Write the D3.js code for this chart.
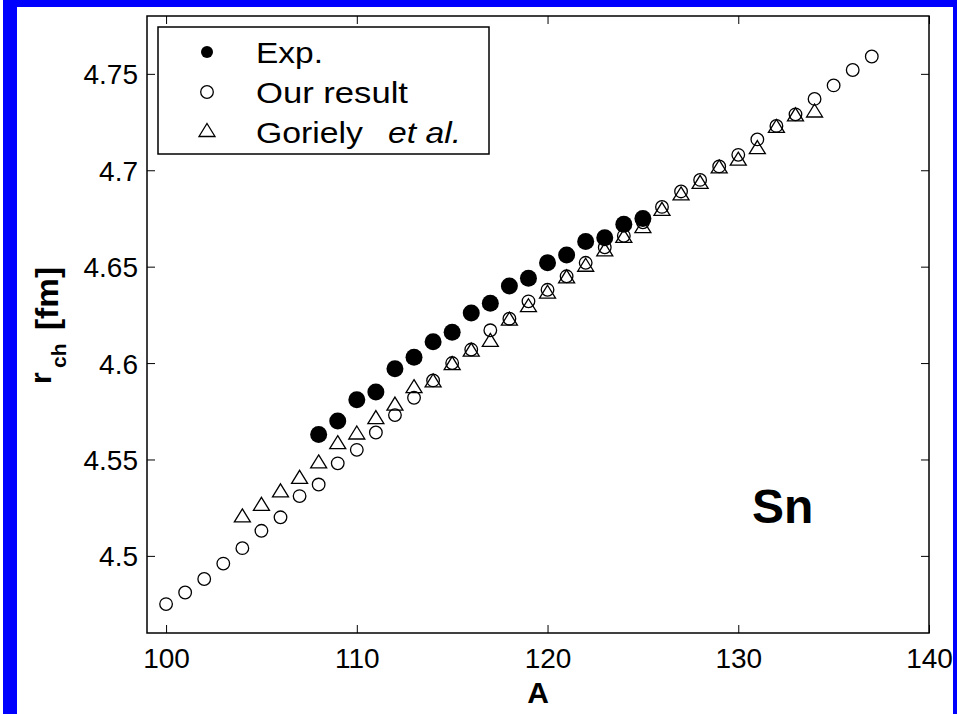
<!DOCTYPE html>
<html>
<head>
<meta charset="utf-8">
<script src="https://cdn.jsdelivr.net/npm/d3@7"></script>
<style>
  html, body { margin: 0; padding: 0; background: #fff; }
  svg { display: block; }
</style>
</head>
<body>
<svg id="chart" width="957" height="714"></svg>
<script>
// Charge radii of Sn isotopes (fm)
const expA = [108, 109, 110, 111, 112, 113, 114, 115, 116, 117, 118, 119, 120, 121, 122, 123, 124, 125];
const expR = [4.563, 4.570, 4.581, 4.585, 4.597, 4.603, 4.611, 4.616, 4.626, 4.631, 4.640, 4.644, 4.652, 4.656, 4.663, 4.665, 4.672, 4.675];

const calcA = [100, 101, 102, 103, 104, 105, 106, 107, 108, 109, 110, 111, 112, 113, 114, 115, 116, 117, 118,
               119, 120, 121, 122, 123, 124, 125, 126, 127, 128, 129, 130, 131, 132, 133, 134, 135, 136, 137];
const calcR = [4.475, 4.481, 4.488, 4.496, 4.504, 4.513, 4.520, 4.531, 4.537, 4.548, 4.555, 4.564, 4.573, 4.582, 4.591, 4.600, 4.607, 4.617, 4.623,
               4.632, 4.638, 4.645, 4.652, 4.660, 4.666, 4.673, 4.681, 4.689, 4.695, 4.702, 4.708, 4.716, 4.723, 4.729, 4.737, 4.744, 4.752, 4.759];

const gorielyA = [104, 105, 106, 107, 108, 109, 110, 111, 112, 113, 114, 115, 116, 117, 118, 119,
                  120, 121, 122, 123, 124, 125, 126, 127, 128, 129, 130, 131, 132, 133, 134];
const gorielyR = [4.521, 4.527, 4.534, 4.541, 4.549, 4.559, 4.564, 4.572, 4.579, 4.588, 4.591, 4.600, 4.607, 4.612, 4.623, 4.630,
                  4.637, 4.645, 4.651, 4.659, 4.666, 4.671, 4.680, 4.688, 4.694, 4.702, 4.706, 4.712, 4.723, 4.729, 4.731];

const xTicks = [100, 110, 120, 130, 140];
const yTicks = [4.5, 4.55, 4.6, 4.65, 4.7, 4.75];
const yTickLabels = ["4.5", "4.55", "4.6", "4.65", "4.7", "4.75"];
const legendLabels = ["Exp.", "Our result", "Goriely"];
const legendItalic = "et al.";
const elementLabel = "Sn";
const xLabel = "A";

const FONT = "'Liberation Sans', Arial, Helvetica, sans-serif";
const svg = d3.select("#chart");

// figure frame
svg.append("rect").attr("width", 957).attr("height", 714).attr("fill", "#0000ff");
svg.append("rect").attr("x", 17).attr("y", 7).attr("width", 936).attr("height", 707).attr("fill", "#fff");
svg.append("rect").attr("x", 0).attr("y", 0).attr("width", 3).attr("height", 714).attr("fill", "#fff");

const plot = { left: 147, top: 16, right: 929, bottom: 633 };
const x = d3.scaleLinear().domain([99, 140]).range([plot.left, plot.right]);
const y = d3.scaleLinear().domain([4.46, 4.78]).range([plot.bottom, plot.top]);

function styleAxis(g) {
  g.select(".domain").remove();
  g.attr("font-family", FONT).attr("font-size", 28);
  g.selectAll(".tick line").attr("stroke", "#000").attr("stroke-width", 1);
  g.selectAll(".tick text").attr("fill", "#000");
}

svg.append("g")
  .attr("transform", `translate(0,${plot.bottom})`)
  .call(d3.axisBottom(x).tickValues(xTicks).tickFormat(d3.format("d"))
    .tickSizeInner(-8).tickSizeOuter(0).tickPadding(15))
  .call(styleAxis);

svg.append("g")
  .attr("transform", `translate(0,${plot.top})`)
  .call(d3.axisTop(x).tickValues(xTicks).tickFormat("")
    .tickSizeInner(-8).tickSizeOuter(0))
  .call(styleAxis);

svg.append("g")
  .attr("transform", `translate(${plot.left},0)`)
  .call(d3.axisLeft(y).tickValues(yTicks).tickFormat((d, i) => yTickLabels[i])
    .tickSizeInner(-8).tickSizeOuter(0).tickPadding(9))
  .call(styleAxis)
  .call(g => g.selectAll(".tick text").attr("dy", "0.36em"));

svg.append("g")
  .attr("transform", `translate(${plot.right},0)`)
  .call(d3.axisRight(y).tickValues(yTicks).tickFormat("")
    .tickSizeInner(-8).tickSizeOuter(0))
  .call(styleAxis);

// axes box
svg.append("rect")
  .attr("x", plot.left).attr("y", plot.top)
  .attr("width", plot.right - plot.left).attr("height", plot.bottom - plot.top)
  .attr("fill", "none").attr("stroke", "#000").attr("stroke-width", 1.5);

// marker shapes
const triPath = "M0,-6.5L8,6.5L-8,6.5Z";

const marks = svg.append("g");

marks.append("g").selectAll("path")
  .data(gorielyA.map((a, i) => [a, gorielyR[i]]))
  .join("path")
  .attr("d", triPath)
  .attr("transform", d => `translate(${x(d[0])},${y(d[1])})`)
  .attr("fill", "none").attr("stroke", "#000").attr("stroke-width", 1.3);

marks.append("g").selectAll("circle")
  .data(calcA.map((a, i) => [a, calcR[i]]))
  .join("circle")
  .attr("cx", d => x(d[0])).attr("cy", d => y(d[1])).attr("r", 6.3)
  .attr("fill", "none").attr("stroke", "#000").attr("stroke-width", 1.3);

marks.append("g").selectAll("circle")
  .data(expA.map((a, i) => [a, expR[i]]))
  .join("circle")
  .attr("cx", d => x(d[0])).attr("cy", d => y(d[1])).attr("r", 8.5)
  .attr("fill", "#000");

// legend
const legend = svg.append("g");
legend.append("rect")
  .attr("x", 158).attr("y", 27).attr("width", 331).attr("height", 127)
  .attr("fill", "#fff").attr("stroke", "#000").attr("stroke-width", 1.5);

legend.append("circle").attr("cx", 207).attr("cy", 52).attr("r", 6).attr("fill", "#000");
legend.append("circle").attr("cx", 207).attr("cy", 92).attr("r", 6.3)
  .attr("fill", "none").attr("stroke", "#000").attr("stroke-width", 1.3);
legend.append("path").attr("d", triPath).attr("transform", "translate(207,130)")
  .attr("fill", "none").attr("stroke", "#000").attr("stroke-width", 1.3);

const legendBaselines = [63, 103, 143];
const legendWidths = [67, 152, 107];
legend.selectAll("text.entry")
  .data(legendLabels)
  .join("text")
  .attr("class", "entry")
  .attr("x", 256).attr("y", (d, i) => legendBaselines[i])
  .attr("textLength", (d, i) => legendWidths[i]).attr("lengthAdjust", "spacingAndGlyphs")
  .attr("font-family", FONT).attr("font-size", 29).attr("fill", "#000")
  .text(d => d);
legend.append("text")
  .attr("x", 388).attr("y", 143)
  .attr("textLength", 73).attr("lengthAdjust", "spacingAndGlyphs")
  .attr("font-family", FONT).attr("font-size", 29).attr("font-style", "italic").attr("fill", "#000")
  .text(legendItalic);

// element label
svg.append("text")
  .attr("x", 752).attr("y", 523)
  .attr("font-family", FONT).attr("font-size", 48).attr("font-weight", "bold").attr("fill", "#000")
  .text(elementLabel);

// axis titles
svg.append("text")
  .attr("x", (plot.left + plot.right) / 2).attr("y", 703)
  .attr("text-anchor", "middle")
  .attr("font-family", FONT).attr("font-size", 30).attr("font-weight", "bold").attr("fill", "#000")
  .text(xLabel);

const yTitle = svg.append("g").attr("transform", "rotate(-90)")
  .attr("font-family", FONT).attr("font-weight", "bold").attr("fill", "#000");
yTitle.append("text").attr("x", -384).attr("y", 51).attr("font-size", 30).text("r");
yTitle.append("text").attr("x", -368).attr("y", 66).attr("font-size", 21).text("ch");
yTitle.append("text").attr("x", -330).attr("y", 58).attr("font-size", 32)
  .attr("textLength", 63).attr("lengthAdjust", "spacingAndGlyphs").text("[fm]");
</script>
</body>
</html>
